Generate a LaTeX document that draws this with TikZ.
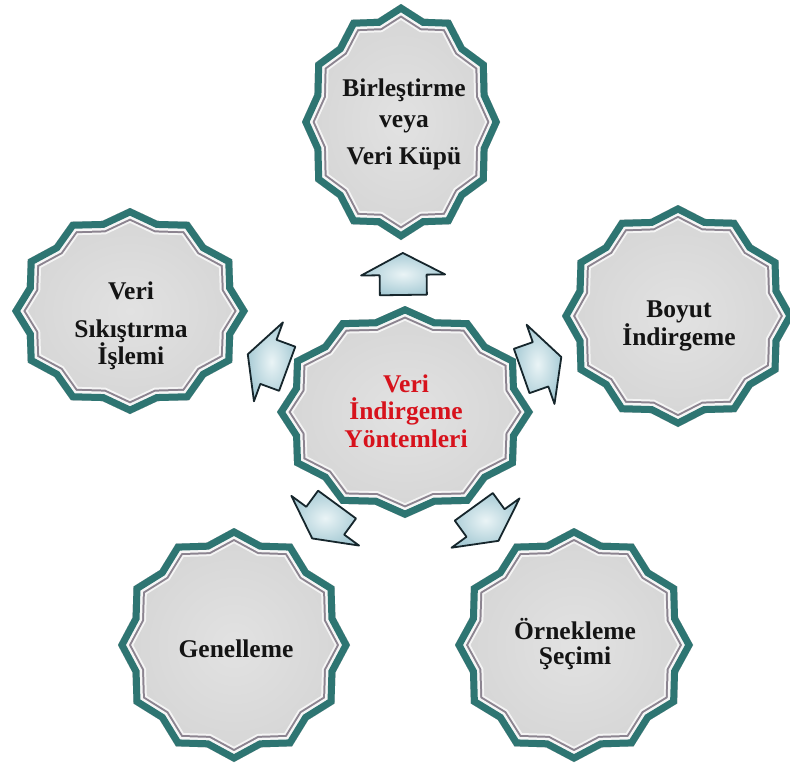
\documentclass[tikz,border=0pt]{standalone}
\usepackage{fontspec}
\setmainfont{Liberation Serif}
\usetikzlibrary{calc}

\definecolor{bandteal}{HTML}{2E7572}
\definecolor{bandgrey}{HTML}{8C8490}
\definecolor{gapwhite}{HTML}{F6F6F6}
\definecolor{petalfill}{HTML}{D5D5D5}
\definecolor{petalcore}{HTML}{E2E2E2}
\definecolor{titlered}{HTML}{D7121C}
\definecolor{arrowblue}{HTML}{A9CCD6}
\definecolor{arrowcore}{HTML}{EAF4F6}
\definecolor{arrowedge}{HTML}{16262C}

% twelve-pointed star of unit radius, one point straight up
\newcommand\starrim{(90:1) \foreach \k in {1,...,23}{ -- ({90+15*\k}:{1-0.095*mod(\k,2)}) } -- cycle}

% star with bevelled rim: name, centre x, centre y, x radius, y radius
\newcommand\petal[5]{%
  \coordinate (#1) at (#2,#3);
  \begin{scope}[shift={(#2,#3)}, xscale=#4, yscale=#5, line join=miter]
    \shade[inner color=petalcore, outer color=petalfill] \starrim;
    \begin{scope}
      \clip \starrim;
      \draw[white, opacity=0.75, line width=27pt] \starrim;
      \draw[bandgrey, line width=23pt] \starrim;
      \draw[gapwhite, line width=19pt] \starrim;
      \draw[bandteal, line width=14pt] \starrim;
    \end{scope}
  \end{scope}}

% block arrow halfway between two stars, turned towards the second
\newcommand\linkarrow[3]{%
  \path let \p1=($(#2)-(#1)$), \n1={atan2(\y1,\x1)} in
    ($(#1)!#3!(#2)$) pic[rotate=\n1]{blockarrow};}

\tikzset{
  petaltext/.style={align=center, inner sep=0pt, text=black!92,
    font=\fontsize{25.5}{27.5}\selectfont\bfseries},
  titletext/.style={petaltext, text=titlered},
  blockarrow/.pic={
    \shadedraw[draw=arrowedge, line width=1.8pt, line join=round,
      inner color=arrowcore, outer color=arrowblue]
      (21,0) -- (-1,42) -- (-1,23.5) -- (-21,23.5) -- (-21,-23.5)
      -- (-1,-23.5) -- (-1,-42) -- cycle;
  }
}

\begin{document}
\begin{tikzpicture}[x=1pt, y=-1pt]
  \useasboundingbox (0,0) rectangle (790,763);
  \fill[white] (0,0) rectangle (790,763);

  \petal{top}{401}{122}{99}{118}
  \petal{hub}{405}{412}{128}{106}
  \petal{west}{130}{311}{118}{103}
  \petal{east}{678}{316}{116}{111}
  \petal{southwest}{234}{645}{116}{117}
  \petal{southeast}{574}{645}{119}{117}

  \node[petaltext] (top-label) at (404,124) {Birleştirme\\[3.5pt] veya\\[9.5pt] Veri Küpü};
  \node[titletext] (hub-label) at (406,411) {Veri\\ İndirgeme\\ Yöntemleri};
  \node[petaltext] (west-label) at (131,326) {Veri\\[10.5pt] Sıkıştırma\\ İşlemi};
  \node[petaltext] (east-label) at (679,326) {Boyut\\ İndirgeme};
  \node[petaltext] (southwest-label) at (236,649) {Genelleme};
  \node[petaltext] (southeast-label) at (575,644) {Örnekleme\\[-2.5pt] Şeçimi};

  \linkarrow{hub}{top}{0.476}
  \linkarrow{hub}{west}{0.5}
  \linkarrow{hub}{east}{0.5}
  \linkarrow{hub}{southwest}{0.47}
  \linkarrow{hub}{southeast}{0.48}
\end{tikzpicture}
\end{document}
